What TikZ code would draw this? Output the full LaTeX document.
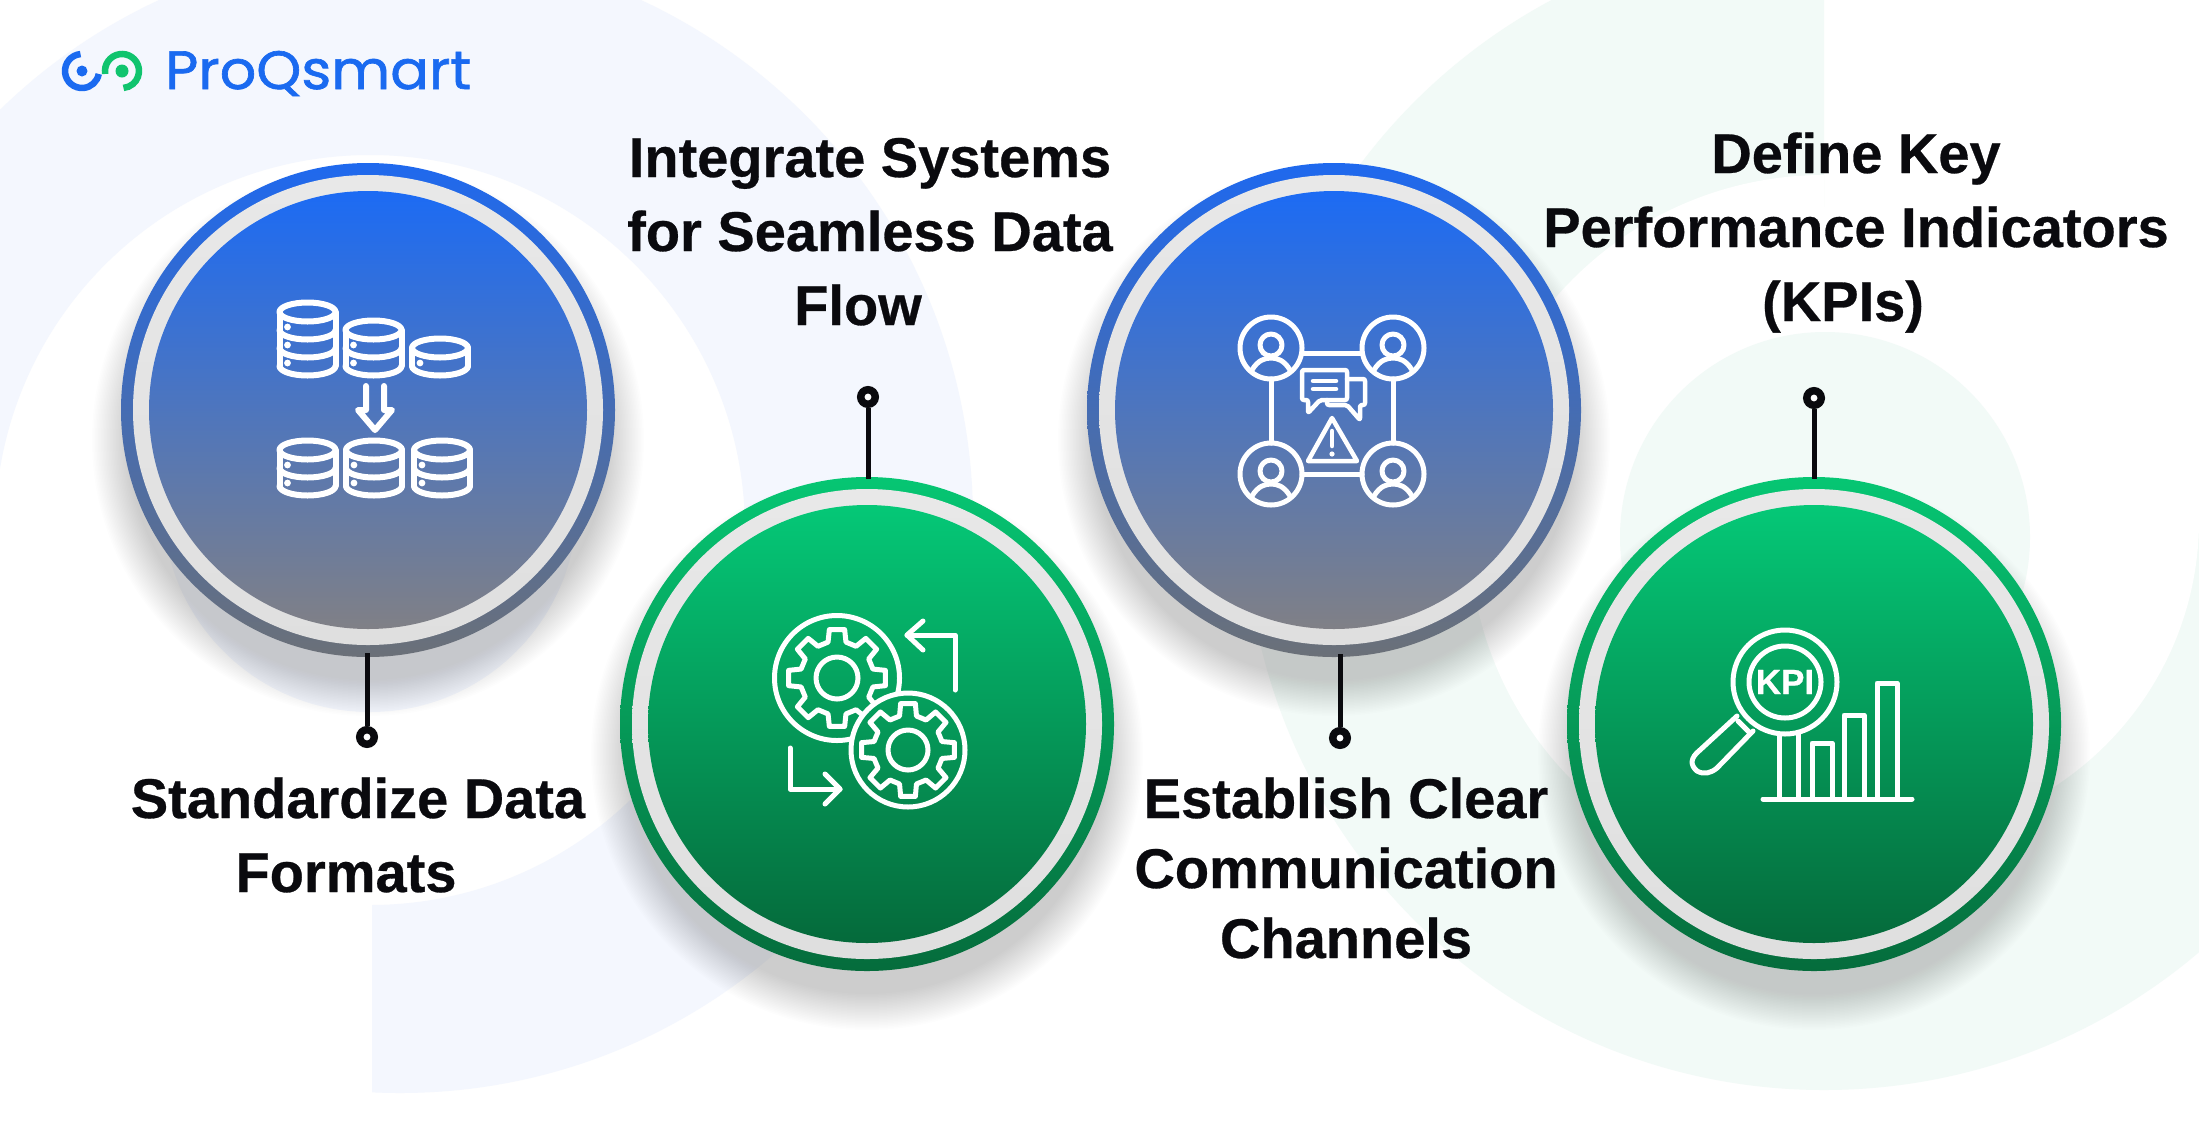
\documentclass[tikz,border=0pt]{standalone}
\usepackage{fontspec}
\setmainfont[BoldFeatures={FakeBold=0.5}]{Liberation Sans}
\newfontfamily\logofont[FakeBold=1.2,FakeStretch=1.06]{Poppins}
\definecolor{inkblack}{HTML}{0A0A0E}
\definecolor{tintblue}{HTML}{F4F7FE}
\definecolor{tintgreen}{HTML}{F2FAF7}
\definecolor{brandblue}{HTML}{1A6AF0}
\definecolor{brandgreen}{HTML}{10C46E}
\definecolor{bluetop}{HTML}{1C6BF4}
\definecolor{bluebot}{HTML}{808086}
\definecolor{ringbluetop}{HTML}{1F69EE}
\definecolor{ringbluebot}{HTML}{6B7078}
\definecolor{greentop}{HTML}{05C877}
\definecolor{greenbot}{HTML}{056A3B}
\definecolor{ringgreentop}{HTML}{06C673}
\definecolor{ringgreenbot}{HTML}{056C3C}
\tikzset{
  x=1pt,y=1pt,
  outerblue/.style={circle,inner sep=0,minimum size=494pt,top color=ringbluetop,bottom color=ringbluebot},
  outergreen/.style={circle,inner sep=0,minimum size=494pt,top color=ringgreentop,bottom color=ringgreenbot},
  ringgray/.style={circle,inner sep=0,minimum size=470pt,top color=gray!18,bottom color=gray!25},
  innerblue/.style={circle,inner sep=0,minimum size=438pt,top color=bluetop,bottom color=bluebot},
  innergreen/.style={circle,inner sep=0,minimum size=438pt,top color=greentop,bottom color=greenbot},
  stem/.style={draw=inkblack,line width=5pt},
  endpoint/.style={circle,inner sep=0,minimum size=14.5pt,draw=inkblack,fill=white,line width=7.5pt},
  lab/.style={text=inkblack,align=center,inner sep=0,font=\fontsize{56}{74}\selectfont\bfseries},
  icon/.style={draw=white,line width=5pt,line join=round,line cap=round},
  dbline/.style={draw=white,line width=6pt,line join=round,line cap=round},
}
\newcommand{\softshadow}[2]{%
  \foreach \i in {0,...,24}{\fill[black!70,opacity=.009] (#1,-#2-30) circle[radius={276-1.5*\i}];}}
\newcommand{\dbcyl}[3]{%
  \begin{scope}[shift={(#1,-#2)}]
    \draw[dbline] (0,0) ellipse[x radius=28,y radius=9.5];
    \draw[dbline] (-28,0) -- (-28,{-18*#3}) (28,0) -- (28,{-18*#3});
    \foreach \k in {1,...,#3}{
      \draw[dbline] (-28,{-18*\k}) arc[start angle=180,end angle=360,x radius=28,y radius=9.5];
      \fill[white] (-20,{-18*\k+3}) circle[radius=3.4];
    }
  \end{scope}}
\newcommand{\gearshape}[4]{% cx cy root-radius tip-radius
  \begin{scope}[shift={(#1,-#2)}]
    \draw[icon] (-14:#3)
      \foreach \a in {0,45,...,315}{ -- ({\a-14}:#3) -- ({\a-9}:#4) -- ({\a+9}:#4) -- ({\a+14}:#3)} -- cycle;
  \end{scope}}
\newcommand{\person}[2]{%
  \begin{scope}[shift={(#1,-#2)}]
    \draw[icon] (0,0) circle[radius=31];
    \draw[icon] (0,3) circle[radius=11];
    \draw[icon] (-19,-22) .. controls (-13,-12) and (-6,-10) .. (0,-10) .. controls (6,-10) and (13,-12) .. (19,-22);
  \end{scope}}
\begin{document}
\begin{tikzpicture}
\useasboundingbox (0,0) rectangle (2199,-1128);
\fill[white] (0,0) rectangle (2199,-1128);
% background marks
\begin{scope}
  \clip (0,0) -- (2199,0) -- (2199,-1128) -- (372,-1128) -- (372,-530) -- (0,-530) -- cycle;
  \fill[tintblue,even odd rule] (400,-520) circle[radius=573] (370,-530) circle[radius=375];
\end{scope}
\fill[tintblue] (370,-505) circle[radius=207];
\begin{scope}
  \clip (0,0) -- (1824,0) -- (1824,-520) -- (2199,-520) -- (2199,-1128) -- (0,-1128) -- cycle;
  \fill[tintgreen] (1824,-511) circle[radius=579];
\end{scope}
\begin{scope}
  \clip (1000,0) rectangle (1824,-1128);
  \fill[white] (1824,-530) circle[radius=355];
\end{scope}
\begin{scope}
  \clip (1824,0) rectangle (2199,-1128);
  \fill[white] (1881,-520) circle[radius=318];
\end{scope}
\fill[tintgreen] (1825,-537) circle[radius=205];
% logo
\draw[brandblue,line width=6.5pt] (82,-71) ++(95:17) arc[start angle=95,end angle=350,radius=17];
\fill[brandblue] (82,-71) circle[radius=5.5];
\draw[brandgreen,line width=6.5pt] (122,-71) ++(190:17) arc[start angle=190,end angle=-85,radius=17];
\fill[brandgreen] (122,-71) circle[radius=6.5];
\node[anchor=base west,inner sep=0,text=brandblue,font=\fontsize{54}{54}\selectfont\logofont] (logo) at (165,-89) {ProQsmart};
% shadows and circles
\softshadow{368}{410}
\node[outerblue] (c1) at (368,-410) {};
\node[ringgray] at (c1) {};
\node[innerblue] at (c1) {};
\softshadow{867}{724}
\node[outergreen] (c2) at (867,-724) {};
\node[ringgray] at (c2) {};
\node[innergreen] at (c2) {};
\softshadow{1334}{410}
\node[outerblue] (c3) at (1334,-410) {};
\node[ringgray] at (c3) {};
\node[innerblue] at (c3) {};
\softshadow{1814}{724}
\node[outergreen] (c4) at (1814,-724) {};
\node[ringgray] at (c4) {};
\node[innergreen] at (c4) {};
% connectors
\node[endpoint] (d1) at (367,-737) {};
\node[endpoint] (d2) at (868,-397) {};
\node[endpoint] (d3) at (1340,-738) {};
\node[endpoint] (d4) at (1814,-398) {};
\draw[stem] (c1.south -| d1) ++(0,4) -- (d1);
\draw[stem] (c2.north -| d2) ++(0,-2) -- (d2);
\draw[stem] (c3.south -| d3) ++(0,3) -- (d3);
\draw[stem] (c4.north) ++(0,-2) -- (d4);
% labels
\node[lab,anchor=base] (t1) at (358,-892) {Standardize Data\\\hspace*{-24pt}Formats};
\node[lab,anchor=base] (t2) at (870,-325) {Integrate Systems\\for Seamless Data\\\hspace*{-24pt}Flow};
\node[lab,anchor=base,font=\fontsize{56}{70}\selectfont\bfseries] (t3) at (1346,-958) {Establish Clear\\Communication\\Channels};
\node[lab,anchor=base] (t4) at (1856,-321) {Define Key\\Performance Indicators\\\hspace*{-26pt}(KPIs)};
% icon 1
\dbcyl{307.5}{312}{3}
\dbcyl{373.5}{330}{2}
\dbcyl{440}{348}{1}
\dbcyl{307.5}{450}{2}
\dbcyl{374}{450}{2}
\dbcyl{442}{450}{2}
\draw[dbline] (366,-386) -- (366,-410) -- (358,-410) -- (375,-430) -- (392,-410) -- (384,-410) -- (384,-386);
% icon 2
\begin{scope}[even odd rule]
  \clip (700,-560) rectangle (1000,-860) (908,-750) circle[radius=57];
  \draw[icon] (837,-678) circle[radius=62.5];
  \gearshape{837}{678}{37}{49}
\end{scope}
\draw[icon] (837,-678) circle[radius=21];
\draw[icon] (908,-750) circle[radius=57];
\gearshape{908}{750}{35}{47}
\draw[icon] (908,-750) circle[radius=20];
\draw[icon] (955,-690) -- (955,-635) -- (907,-635);
\draw[icon] (923,-621) -- (907,-635) -- (923,-650);
\draw[icon] (790,-748) -- (790,-789) -- (840,-789);
\draw[icon] (825,-774) -- (840,-789) -- (825,-804);
% icon 3
\person{1271}{348}
\person{1393}{348}
\person{1271}{474}
\person{1393}{474}
\draw[icon] (1302,-353) -- (1362,-353);
\draw[icon] (1302,-474) -- (1362,-474);
\draw[icon] (1271,-379) -- (1271,-443);
\draw[icon] (1393,-379) -- (1393,-443);
\draw[icon,line width=4.5pt,rounded corners=2pt] (1302,-370) -- (1347,-370) -- (1347,-400) -- (1320,-400) -- (1308,-413) -- (1308,-400) -- (1302,-400) -- cycle;
\draw[icon,line width=4.5pt,rounded corners=2pt] (1347,-379) -- (1365,-379) -- (1365,-405) -- (1360,-405) -- (1360,-420) -- (1347,-405) -- (1327,-405) -- (1327,-400);
\draw[icon,line width=4.5pt] (1313,-381) -- (1336,-381) (1313,-389) -- (1336,-389);
\draw[icon,line width=4.5pt] (1332,-418) -- (1308,-461) -- (1357,-461) -- cycle;
\draw[icon,line width=4.5pt] (1332,-431) -- (1332,-446);
\fill[white] (1332,-454) circle[radius=2.6];
% icon 4
\draw[icon] (1785,-682) circle[radius=52];
\draw[icon] (1785,-682) circle[radius=36];
\node[text=white,inner sep=0,font=\fontsize{35}{35}\selectfont\bfseries] (kpi) at (1785,-682) {KPI};
\draw[icon] (1737,-716) -- (1700,-750) .. controls (1690,-758) and (1690,-765) .. (1697,-771) .. controls (1704,-775) and (1711,-773) .. (1717,-768) -- (1753,-731);
\draw[icon] (1738,-721) -- (1750,-733);
\draw[icon] (1763,-799) -- (1912,-799);
\draw[icon] (1779,-799) -- (1779,-734) (1798,-733) -- (1798,-799);
\draw[icon] (1812,-799) -- (1812,-743) -- (1832,-743) -- (1832,-799);
\draw[icon] (1844,-799) -- (1844,-715) -- (1864,-715) -- (1864,-799);
\draw[icon] (1877,-799) -- (1877,-683) -- (1897,-683) -- (1897,-799);
\end{tikzpicture}
\end{document}
